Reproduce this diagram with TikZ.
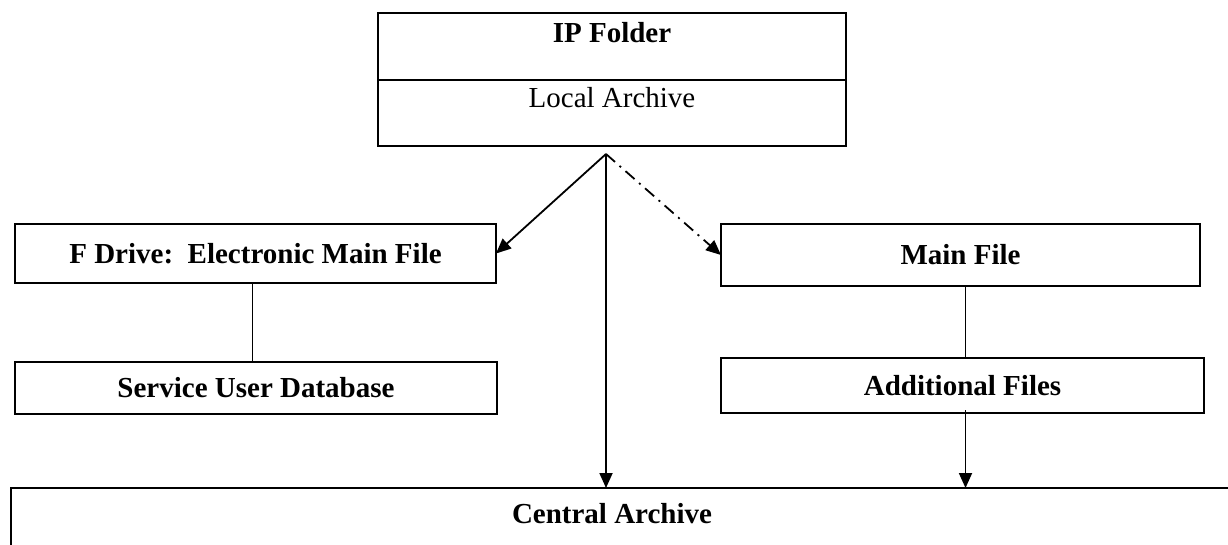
\documentclass[tikz,border=0pt]{standalone}
\usepackage{fontspec}
\setmainfont{Liberation Serif}
\usetikzlibrary{arrows.meta}

\begin{document}
\begin{tikzpicture}[x=1pt, y=-1pt,
    boxnode/.style={draw, line width=2pt, rectangle, inner sep=0pt, outer sep=0pt,
        font=\fontsize{29}{34}\selectfont\bfseries},
    arrowline/.style={line width=1.8pt, -{Triangle[length=15pt,width=13pt]}},
    linkdashdot/.style={dash pattern=on 12pt off 6pt on 2pt off 6pt}]
            \clip (0,0) rectangle (1228,544);

            % Draw the folder box at the top
            \node[boxnode, anchor=north, minimum width=468, line width=2.4pt,
                text height=29pt, text depth=38pt] (ipfolder) at (612,13) {IP Folder};
            \node[boxnode, anchor=north, minimum width=468, line width=2.4pt,
                text height=27pt, text depth=39pt, font=\fontsize{29}{34}\selectfont]
                (localarch) at (ipfolder.south) {Local Archive};
            \coordinate (hub) at (606,154);

            % Draw the two branches
            \node[boxnode, minimum width=481, minimum height=59] (fdrive) at (255.5,253.5) {F Drive:\ \ Electronic Main File};
            \node[boxnode, minimum width=482, minimum height=52] (sud) at (256,388) {Service User Database};
            \node[boxnode, minimum width=479, minimum height=62] (mainfile) at (960.5,255) {Main File};
            \node[boxnode, minimum width=483, minimum height=55] (addfiles) at (962.5,385.5) {Additional Files};

            % Draw the archive at the bottom
            \node[boxnode, anchor=north west, minimum width=1260, minimum height=80] (central) at (11,488) {};
            \node[font=\fontsize{29}{34}\selectfont\bfseries] (centraltxt) at (612,514) {Central Archive};

            % Draw links
            \draw[arrowline] (hub) -- (fdrive.east);
            \draw[arrowline, linkdashdot] (hub) -- (mainfile.west);
            \draw[arrowline] (hub) -- (hub |- central.north);
            \draw[line width=1.8pt] ([xshift=-3pt]fdrive.south) -- ([xshift=-3pt]fdrive.south |- sud.north);
            \draw[line width=1.8pt] ([xshift=5pt]mainfile.south) -- ([xshift=5pt]mainfile.south |- addfiles.north);
            \draw[arrowline] ([xshift=5pt,yshift=3pt]mainfile.south |- addfiles.south) -- ([xshift=5pt]mainfile.south |- central.north);
        \end{tikzpicture}
\end{document}
